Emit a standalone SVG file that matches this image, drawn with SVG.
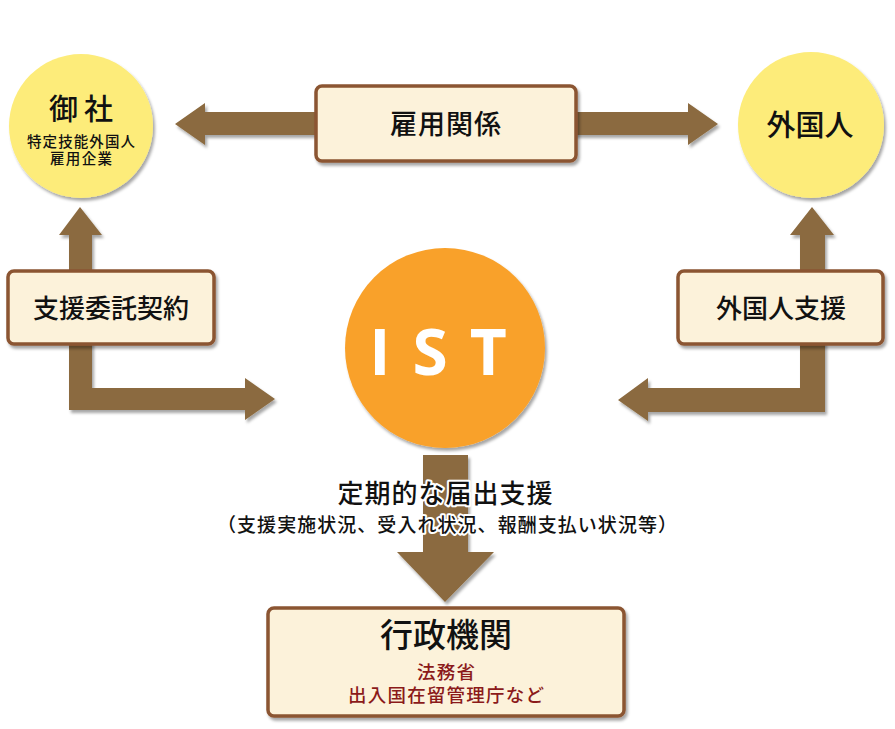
<svg xmlns="http://www.w3.org/2000/svg" width="895" height="729" viewBox="0 0 895 729">
<defs>
<filter id="sh" x="-10%" y="-10%" width="130%" height="130%">
<feDropShadow dx="2" dy="3" stdDeviation="1.5" flood-color="#000" flood-opacity="0.35"/>
</filter>
<style>
.arrow{fill:#8B6A3F;filter:url(#sh)}
.box{fill:#FCF2DA;stroke:#8B5531;stroke-width:3.5;filter:url(#sh)}
.yc{fill:#FDEC7A;filter:url(#sh)}
.t{font-family:"Noto Sans CJK JP","Noto Sans",sans-serif;fill:#111;text-anchor:middle;font-weight:500}
.halo{stroke:#fff;stroke-width:4;paint-order:stroke;stroke-linejoin:round}
.red{fill:#8B1A1A}
</style>
</defs>
<rect width="895" height="729" fill="#fff"/>
<g id="connectors">
<path class="arrow" d="M175,124 L205,103 L205,112 L330,112 L330,135 L205,135 L205,145 Z"/>
<path class="arrow" d="M718,124 L688,103 L688,112 L560,112 L560,135 L688,135 L688,145 Z"/>
<path class="arrow" d="M80,207 L102,235 L92,235 L92,388 L245,388 L245,378 L275,399 L245,420 L245,410 L69,410 L69,235 L59,235 Z"/>
<path class="arrow" d="M812,207 L834,235 L825,235 L825,412 L648,412 L648,421 L618,400 L648,378 L648,388 L800,388 L800,235 L790,235 Z"/>
<path class="arrow" d="M423,455 L468,455 L468,552 L494,552 L445,602 L397,552 L423,552 Z"/>
</g>
<g id="n-onsha">
<circle class="yc" cx="81" cy="126" r="72"/>
<text class="t" x="84" y="120" font-size="29" font-weight="bold" letter-spacing="6">御社</text>
<text class="t" x="81" y="147" font-size="14.5" font-weight="bold" textLength="108">特定技能外国人</text>
<text class="t" x="81" y="164" font-size="14.5" font-weight="bold" textLength="62">雇用企業</text>
</g>
<g id="n-gaikokujin">
<circle class="yc" cx="811" cy="125" r="73"/>
<text class="t" x="810" y="136" font-size="29">外国人</text>
</g>
<g id="n-koyo">
<rect class="box" x="316" y="86" width="260" height="75" rx="6"/>
<text class="t" x="446" y="134" font-size="27" letter-spacing="1">雇用関係</text>
</g>
<g id="n-shien-itaku">
<rect class="box" x="8" y="271" width="206" height="73" rx="6"/>
<text class="t" x="111" y="318" font-size="26">支援委託契約</text>
</g>
<g id="n-gaikokujin-shien">
<rect class="box" x="678" y="271" width="205" height="73" rx="6"/>
<text class="t" x="781" y="318" font-size="26">外国人支援</text>
</g>
<g id="n-ist">
<circle cx="445" cy="348" r="100" fill="#F9A12B" filter="url(#sh)"/>
<text x="449" y="375" font-family="'Open Sans','Noto Sans',sans-serif" font-size="64" font-weight="bold" fill="#fff" text-anchor="middle" letter-spacing="22">IST</text>
</g>
<g id="labels">
<text class="t halo" x="445" y="503" font-size="26" textLength="215">定期的な届出支援</text>
<text class="t halo" x="447" y="532" font-size="19" textLength="460" lengthAdjust="spacing">（支援実施状況、受入れ状況、報酬支払い状況等）</text>
</g>
<g id="n-gyosei">
<rect class="box" x="268" y="608" width="356" height="108" rx="6"/>
<text class="t" x="446" y="647" font-size="33">行政機関</text>
<text class="t red" x="446" y="679" font-size="18.5" textLength="58">法務省</text>
<text class="t red" x="446" y="702" font-size="18.5" textLength="196">出入国在留管理庁など</text>
</g>
</svg>
